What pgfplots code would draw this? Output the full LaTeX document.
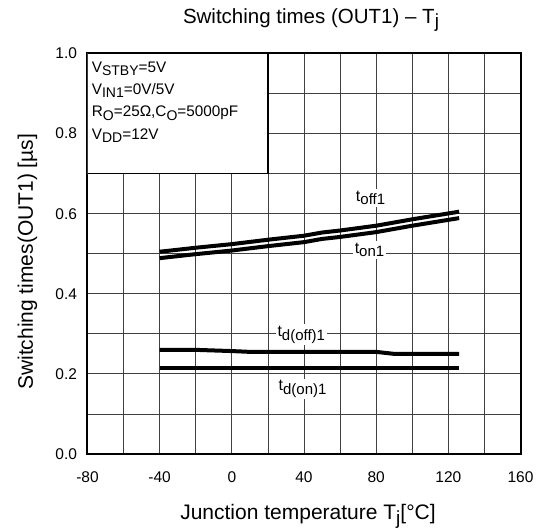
\documentclass[border=0pt]{standalone}
\usepackage{pgfplots}
\pgfplotsset{compat=1.18}
\usepackage{fontspec}
\setmainfont{Liberation Sans}
\newcommand\sub[2][14]{\raisebox{-0.4ex}{\fontsize{#1}{#1}\selectfont #2}}
\begin{document}
\begin{tikzpicture}
\begin{axis}[
  scale only axis, width=433pt, height=400.5pt,
  xmin=-80, xmax=160, ymin=0, ymax=1,
  xtick={-80,-40,...,160}, ytick={0,0.2,0.4,0.6,0.8,1.0},
  minor xtick={-60,-20,...,140}, minor ytick={0.1,0.3,0.5,0.7,0.9},
  grid=both, grid style={line width=0.8pt, color=black!75},
  major tick length=0pt, minor tick length=0pt,
  axis line style={line width=2pt},
  ticklabel style={font=\fontsize{15.5}{15.5}\selectfont},
  /pgf/number format/assume math mode=true,
  yticklabel style={/pgf/number format/fixed, /pgf/number format/fixed zerofill, /pgf/number format/precision=1, xshift=-7pt},
  xticklabel style={yshift=-14pt},
  xlabel={Junction temperature T\sub[19]{j}[°C]},
  xlabel style={font=\fontsize{21}{21}\selectfont, at={(axis description cs:0.5,0)}, anchor=base, yshift=-66pt, xshift=4pt},
  ylabel={Switching times(OUT1) [µs]},
  ylabel style={font=\fontsize{21}{21}\selectfont, at={(axis description cs:-0.126,0.48)}, anchor=base},
  title={Switching times (OUT1) – T\sub[19]{j}},
  title style={font=\fontsize{20.5}{20.5}\selectfont, at={(axis description cs:0.5,1)}, anchor=base, yshift=24pt, xshift=7pt},
]
\draw[fill=white, line width=1.5pt] (axis cs:-80,0.7) rectangle (axis cs:20,1.0);
\node[anchor=north west, align=left, font=\fontsize{15.3}{22.3}\selectfont, inner sep=0pt] at ([xshift=4.2pt,yshift=-8pt]axis cs:-80,1.0)
  {V\sub{STBY}=5V\\V\sub{IN1}=0V/5V\\R\sub{O}=25Ω,C\sub{O}=5000pF\\V\sub{DD}=12V};
\addplot[black, line width=4pt, line join=round] coordinates {(-40,0.505) (-20,0.515) (0,0.524) (20,0.535) (40,0.545) (50,0.553) (60,0.558) (80,0.570) (100,0.586) (126,0.605)};
\addplot[black, line width=4pt, line join=round] coordinates {(-40,0.489) (-20,0.499) (0,0.508) (20,0.519) (40,0.529) (50,0.537) (60,0.542) (80,0.554) (100,0.570) (126,0.589)};
\addplot[black, line width=4pt, line join=round] coordinates {(-40,0.260) (-20,0.260) (0,0.257) (10,0.255) (80,0.255) (90,0.250) (126,0.250)};
\addplot[black, line width=4pt] coordinates {(-40,0.215) (126,0.215)};
\node[fill=white, inner sep=2pt, font=\fontsize{16}{16}\selectfont] at (axis cs:76.9,0.64) {t\sub[15]{off1}};
\node[fill=white, inner sep=2pt, font=\fontsize{16}{16}\selectfont] at (axis cs:76.3,0.51) {t\sub[15]{on1}};
\node[fill=white, inner sep=2pt, font=\fontsize{16}{16}\selectfont] at (axis cs:38.5,0.2975) {t\sub[15]{d(off)1}};
\node[fill=white, inner sep=2pt, font=\fontsize{16}{16}\selectfont] at (axis cs:39.2,0.1625) {t\sub[15]{d(on)1}};
\end{axis}
\path (current axis.south west) ++(-87.5pt,-75pt) coordinate (bl);
\pgfresetboundingbox
\path[use as bounding box] (bl) rectangle ++(543pt,529pt);
\end{tikzpicture}
\end{document}
